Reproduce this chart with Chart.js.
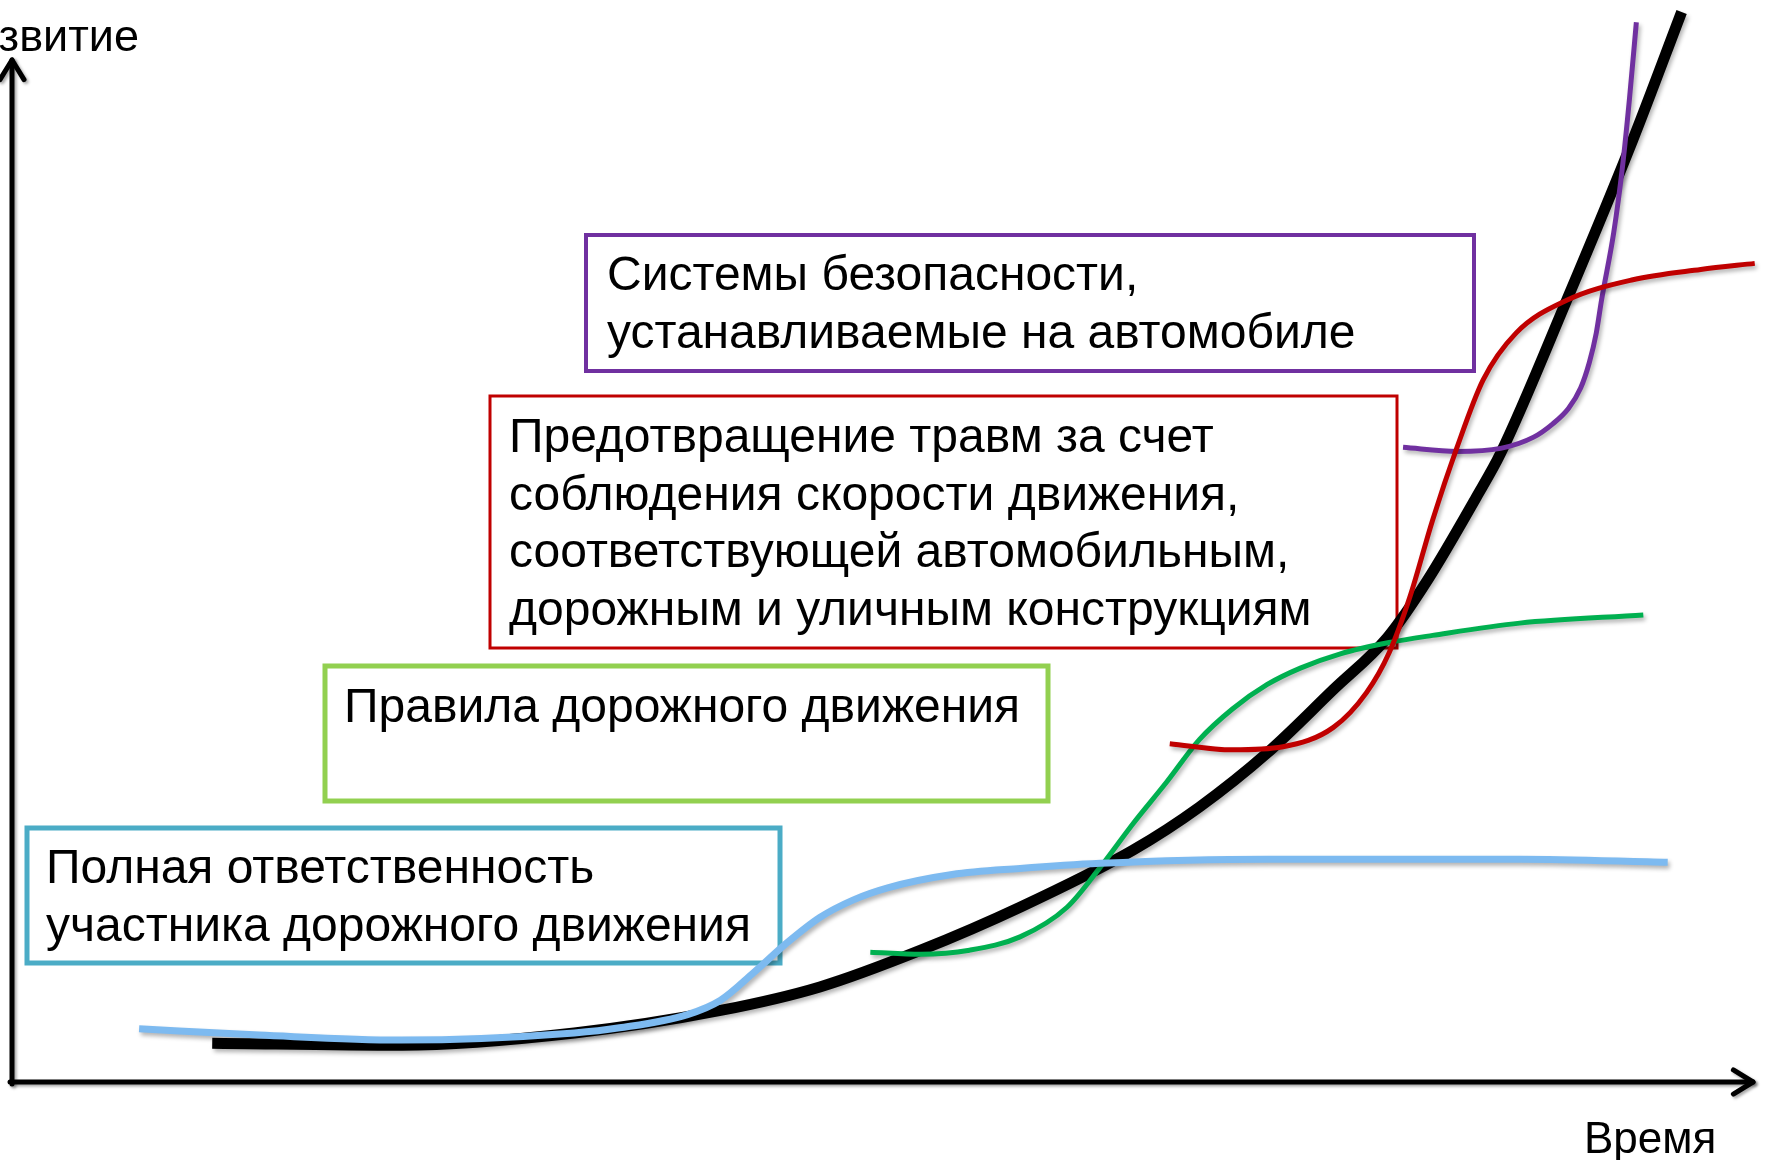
<!DOCTYPE html>
<html>
<head>
<meta charset="utf-8">
<script src="https://cdn.jsdelivr.net/npm/chart.js@4"></script>
<style>
  body { margin: 0; background: #fff; }
  canvas { display: block; }
</style>
</head>
<body>
<canvas id="chart" width="1766" height="1160"></canvas>
<script>
// оси
const axisLabels = ["Развитие", "Время"];

// общее развитие (чёрная кривая)
const overallX = [11.5, 22.4, 32.3, 40.7, 46.4, 52.2, 57.9, 64.4, 68.2, 72.1, 75.9, 79.0, 81.3, 84.1, 85.5, 89.3, 93.1, 95.9];
const overallY = [3.8, 3.6, 4.8, 7.0, 9.3, 12.9, 17.1, 22.7, 26.9, 32.2, 38.4, 43.5, 49.1, 57.2, 61.5, 76.5, 92.2, 104.7];

// полная ответственность участника (голубая)
const userX = [7.3, 14.2, 22.3, 32.3, 34.9, 38.8, 40.7, 42.6, 44.5, 46.4, 48.3, 50.3, 54.0, 57.9, 62.5, 72.1, 86.6, 95.1];
const userY = [5.2, 4.6, 4.1, 4.8, 5.3, 6.6, 8.0, 10.7, 13.6, 16.1, 17.8, 19.0, 20.3, 20.9, 21.4, 21.8, 21.8, 21.5];

// правила дорожного движения (зелёная)
const rulesX = [49.3, 52.2, 55.0, 57.9, 60.6, 62.5, 64.4, 66.3, 68.2, 70.1, 72.1, 74.0, 76.3, 79.1, 81.6, 86.6, 93.7];
const rulesY = [12.7, 12.5, 12.9, 14.2, 17.1, 21.0, 25.3, 29.3, 33.5, 36.5, 38.9, 40.5, 41.9, 43.0, 43.7, 44.9, 45.7];

// скорость и конструкции (красная)
const speedX = [66.5, 70.1, 73.0, 75.9, 77.8, 79.1, 80.3, 81.6, 83.0, 84.5, 86.4, 89.3, 93.1, 97.0, 100.1];
const speedY = [33.1, 32.5, 32.8, 34.7, 38.1, 42.0, 47.5, 55.0, 62.1, 68.7, 73.3, 76.5, 78.5, 79.5, 80.1];

// системы безопасности автомобиля (фиолетовая)
const vehicleX = [79.9, 83.0, 85.5, 87.4, 88.5, 89.4, 90.1, 90.6, 91.0, 91.3, 92.0, 92.5, 92.9, 93.3];
const vehicleY = [62.1, 61.7, 62.0, 63.1, 64.4, 65.9, 67.9, 70.4, 73.3, 76.5, 83.1, 89.5, 96.1, 103.7];

// подписи в рамках
const boxTexts = [
  ["Системы безопасности,", "устанавливаемые на автомобиле"],
  ["Предотвращение травм за счет", "соблюдения скорости движения,", "соответствующей автомобильным,", "дорожным и уличным конструкциям"],
  ["Правила дорожного движения"],
  ["Полная ответственность", "участника дорожного движения"]
];

// расположение рамок (px)
const boxLayout = [
  { x: 586, y: 235, w: 888, h: 136, color: "#7030A0", lw: 4, tx: 607, ty: 290 },
  { x: 490, y: 396, w: 907, h: 252, color: "#C00000", lw: 3, tx: 509, ty: 452 },
  { x: 325, y: 666, w: 723, h: 135, color: "#92D050", lw: 5, tx: 344, ty: 722 },
  { x: 27, y: 828, w: 753, h: 135, color: "#4BACC6", lw: 5, tx: 46, ty: 883 }
];

const toPoints = (xs, ys) => xs.map((x, i) => ({ x: x, y: ys[i] }));

const FONT = "'Liberation Sans', Arial, sans-serif";

const drawArrowLine = (ctx, x1, y1, x2, y2, wing) => {
  const ang = Math.atan2(y2 - y1, x2 - x1);
  ctx.beginPath();
  ctx.moveTo(x1, y1);
  ctx.lineTo(x2, y2);
  ctx.stroke();
  ctx.beginPath();
  ctx.moveTo(x2 - wing * Math.cos(ang - 0.55), y2 - wing * Math.sin(ang - 0.55));
  ctx.lineTo(x2, y2);
  ctx.lineTo(x2 - wing * Math.cos(ang + 0.55), y2 - wing * Math.sin(ang + 0.55));
  ctx.stroke();
};

// рамки, оси и подписи
const decorPlugin = {
  id: "decor",
  beforeDatasetsDraw(chart) {
    const ctx = chart.ctx;
    const xs = chart.scales.x;
    const ys = chart.scales.y;
    const x0 = xs.getPixelForValue(0);
    const y0 = ys.getPixelForValue(0);

    ctx.save();
    ctx.strokeStyle = "#000";
    ctx.lineWidth = 5;
    ctx.lineCap = "round";
    ctx.lineJoin = "round";
    ctx.shadowColor = "rgba(0,0,0,0.35)";
    ctx.shadowBlur = 3;
    ctx.shadowOffsetX = 2;
    ctx.shadowOffsetY = 2;
    drawArrowLine(ctx, x0, y0 + 2, x0, ys.getPixelForValue(100), 23);
    drawArrowLine(ctx, x0 - 2, y0, xs.getPixelForValue(100), y0, 23);
    ctx.restore();

    ctx.save();
    ctx.fillStyle = "#000";
    ctx.font = "45px " + FONT;
    ctx.textAlign = "right";
    ctx.fillText(axisLabels[0], 139, 51);
    ctx.textAlign = "left";
    ctx.font = "44px " + FONT;
    ctx.fillText(axisLabels[1], 1584, 1153);

    ctx.font = "48px " + FONT;
    boxLayout.forEach((b, i) => {
      ctx.strokeStyle = b.color;
      ctx.lineWidth = b.lw;
      ctx.strokeRect(b.x, b.y, b.w, b.h);
      boxTexts[i].forEach((line, j) => {
        ctx.fillText(line, b.tx, b.ty + j * 57.5);
      });
    });
    ctx.restore();
  },
  beforeDatasetDraw(chart) {
    const ctx = chart.ctx;
    ctx.save();
    ctx.shadowColor = "rgba(0,0,0,0.3)";
    ctx.shadowBlur = 4;
    ctx.shadowOffsetX = 2;
    ctx.shadowOffsetY = 3;
  },
  afterDatasetDraw(chart) {
    chart.ctx.restore();
  }
};

const line = (data, color, width, order) => ({
  data: data,
  showLine: true,
  borderColor: color,
  borderWidth: width,
  pointRadius: 0,
  cubicInterpolationMode: "monotone",
  borderCapStyle: "butt",
  clip: false,
  order: order
});

new Chart(document.getElementById("chart"), {
  type: "scatter",
  data: {
    datasets: [
      line(toPoints(overallX, overallY), "#000000", 11, 5),
      line(toPoints(rulesX, rulesY), "#00B050", 5, 4),
      line(toPoints(userX, userY), "#7DBAF0", 7, 3),
      line(toPoints(vehicleX, vehicleY), "#7030A0", 5, 2),
      line(toPoints(speedX, speedY), "#C00000", 5, 1)
    ]
  },
  options: {
    responsive: false,
    animation: false,
    layout: { padding: { left: 12, right: 13, top: 60, bottom: 78 } },
    plugins: { legend: { display: false }, tooltip: { enabled: false } },
    scales: {
      x: { type: "linear", min: 0, max: 100, display: false },
      y: { type: "linear", min: 0, max: 100, display: false }
    }
  },
  plugins: [decorPlugin]
});
</script>
</body>
</html>
